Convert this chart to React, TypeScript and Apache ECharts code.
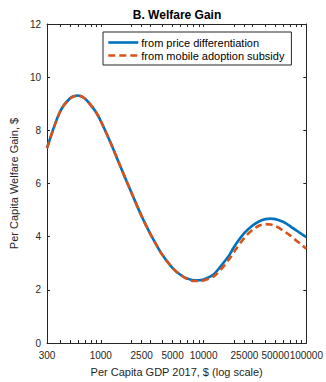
import React, { useEffect, useRef } from "react";
import * as echarts from "echarts";

const gdp = [300, 400, 500, 600, 700, 800, 900, 1000, 1250, 1500, 1750, 2000, 2500, 3000, 3500, 4000, 5000, 6000, 7000, 8000, 9000, 10000, 12500, 15000, 17500, 20000, 25000, 30000, 35000, 40000, 45000, 50000, 60000, 70000, 80000, 90000, 100000];
const priceDiff = [7.33, 8.69, 9.2, 9.31, 9.2, 8.95, 8.68, 8.35, 7.52, 6.78, 6.16, 5.63, 4.77, 4.14, 3.67, 3.3, 2.82, 2.56, 2.42, 2.36, 2.36, 2.39, 2.58, 2.93, 3.26, 3.64, 4.14, 4.42, 4.58, 4.66, 4.68, 4.66, 4.55, 4.39, 4.23, 4.1, 3.98];
const adoptionSubsidy = [7.33, 8.69, 9.2, 9.31, 9.2, 8.95, 8.68, 8.35, 7.52, 6.78, 6.16, 5.63, 4.77, 4.14, 3.67, 3.3, 2.82, 2.55, 2.4, 2.33, 2.33, 2.35, 2.5, 2.8, 3.12, 3.45, 3.96, 4.26, 4.42, 4.47, 4.46, 4.4, 4.22, 4.04, 3.85, 3.7, 3.54];
const xTickLabels = [300, 1000, 2500, 5000, 10000, 25000, 50000, 100000];
const xMinorTicks = [400, 500, 600, 700, 800, 900, 2000, 3000, 4000, 6000, 7000, 8000, 9000, 20000, 30000, 40000, 60000, 70000, 80000, 90000];
const seriesNames = ["from price differentiation", "from mobile adoption subsidy"];

const FONT = "'Liberation Sans', Arial, Helvetica, sans-serif";
const AX = "#262626";

export default function App() {
  const ref = useRef<HTMLDivElement>(null);
  useEffect(() => {
    if (!ref.current) return;
    const chart = echarts.init(ref.current, null, { renderer: "svg" });
    const lg = (v: number) => Math.log10(v);
    const allTicks = [...xTickLabels, ...xMinorTicks].sort((a, b) => a - b).map(lg);
    const labelVals = xTickLabels.map(lg);
    const xBase = {
      type: "value" as const,
      min: lg(300),
      max: lg(100000),
      splitLine: { show: false },
      axisLine: { show: true, onZero: false, lineStyle: { color: AX, width: 1 } },
      axisTick: { show: true, inside: true, length: 3, customValues: allTicks, lineStyle: { color: AX } },
    };
    chart.setOption({
      animation: false,
      textStyle: { fontFamily: FONT },
      title: {
        text: "B. Welfare Gain",
        left: 172,
        top: 4,
        textAlign: "center",
        textStyle: { fontSize: 12, fontWeight: "bold", color: "#000", fontFamily: FONT },
      },
      legend: {
        orient: "vertical",
        left: 103,
        top: 32,
        itemWidth: 30,
        itemHeight: 12,
        itemGap: 2,
        padding: [5, 7, 4, 4],
        borderColor: AX,
        borderWidth: 1,
        backgroundColor: "#fff",
        data: seriesNames,
        itemStyle: { opacity: 0 },
        lineStyle: { width: 2.6 },
        textStyle: { fontSize: 11, color: "#000", fontFamily: FONT, padding: [0, 0, 0, -2] },
      },
      grid: { left: 38, right: 19, top: 24, bottom: 34, containLabel: false },
      xAxis: [
        {
          ...xBase,
          position: "bottom",
          name: "Per Capita GDP 2017, $ (log scale)",
          nameLocation: "middle",
          nameGap: 23,
          nameTextStyle: { fontSize: 11, color: AX, fontFamily: FONT },
          axisLabel: {
            show: true,
            customValues: labelVals,
            margin: 7,
            fontSize: 10,
            color: AX,
            fontFamily: FONT,
            formatter: (v: number) => String(Math.round(Math.pow(10, v))),
          },
        },
        {
          ...xBase,
          position: "top",
          axisLabel: { show: false },
        },
      ],
      yAxis: [
        {
          type: "value",
          min: 0,
          max: 12,
          interval: 2,
          position: "left",
          name: "Per Capita Welfare Gain, $",
          nameLocation: "middle",
          nameGap: 20,
          nameTextStyle: { fontSize: 11, color: AX, fontFamily: FONT },
          splitLine: { show: false },
          axisLine: { show: true, onZero: false, lineStyle: { color: AX, width: 1 } },
          axisTick: { show: true, inside: true, length: 3, lineStyle: { color: AX } },
          axisLabel: { fontSize: 10, color: AX, margin: 6, fontFamily: FONT },
        },
        {
          type: "value",
          min: 0,
          max: 12,
          interval: 2,
          position: "right",
          splitLine: { show: false },
          axisLine: { show: true, onZero: false, lineStyle: { color: AX, width: 1 } },
          axisTick: { show: true, inside: true, length: 3, lineStyle: { color: AX } },
          axisLabel: { show: false },
        },
      ],
      series: [
        {
          name: seriesNames[0],
          type: "line",
          xAxisIndex: 0,
          yAxisIndex: 0,
          symbol: "none",
          smooth: 0.3,
          color: "#0072BD",
          lineStyle: { width: 2.6, color: "#0072BD" },
          data: gdp.map((g, i) => [lg(g), priceDiff[i]]),
        },
        {
          name: seriesNames[1],
          type: "line",
          xAxisIndex: 0,
          yAxisIndex: 0,
          symbol: "none",
          smooth: 0.3,
          color: "#D95319",
          lineStyle: { width: 2.6, color: "#D95319", type: [7, 4] },
          data: gdp.map((g, i) => [lg(g), adoptionSubsidy[i]]),
        },
      ],
    });
    return () => chart.dispose();
  }, []);
  return (
    <div
      ref={ref}
      style={{ position: "fixed", left: 0, top: 0, width: 326, height: 382, background: "#fff" }}
    />
  );
}
